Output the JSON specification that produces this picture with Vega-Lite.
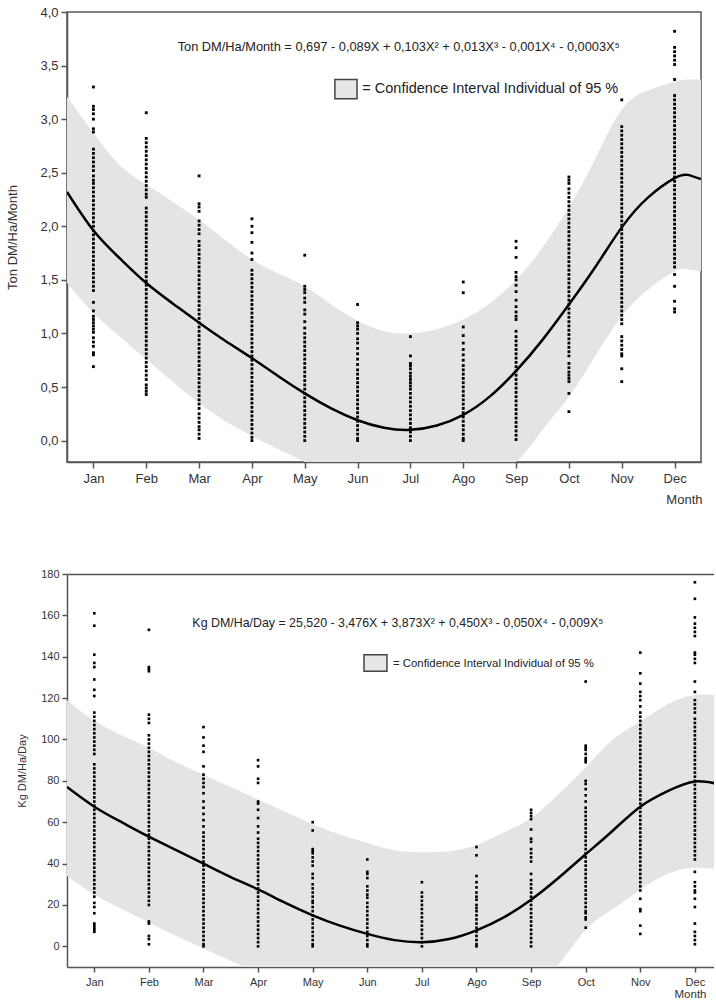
{
"$schema":"https://vega.github.io/schema/vega-lite/v6.json",
"padding":{"left":6,"top":5,"right":0,"bottom":0},
"background":"white",
"bounds":"flush",
"spacing":112,
"config":{"font":"Liberation Sans","view":{"stroke":null},"axis":{"grid":false,"domainColor":"#555","domainWidth":1.5,"tickColor":"#555","tickWidth":1.5,"labelColor":"#333","titleColor":"#333","titleFontWeight":"normal"}},
"datasets":{
"tl":[{"x":0.5,"y":2.32},{"x":1,"y":1.96},{"x":1.5,"y":1.7},{"x":2,"y":1.47},{"x":2.5,"y":1.28},{"x":3,"y":1.1},{"x":3.5,"y":0.93},{"x":4,"y":0.77},{"x":4.5,"y":0.6},{"x":5,"y":0.44},{"x":5.5,"y":0.3},{"x":6,"y":0.19},{"x":6.5,"y":0.12},{"x":7,"y":0.1},{"x":7.5,"y":0.14},{"x":8,"y":0.24},{"x":8.5,"y":0.41},{"x":9,"y":0.65},{"x":9.5,"y":0.94},{"x":10,"y":1.27},{"x":10.5,"y":1.62},{"x":11,"y":1.99},{"x":11.5,"y":2.27},{"x":12,"y":2.45},{"x":12.25,"y":2.48},{"x":12.5,"y":2.44}],
"tb":[{"x":0.5,"y":1.47,"y2":3.21},{"x":1,"y":1.19,"y2":2.87},{"x":1.5,"y":0.97,"y2":2.57},{"x":2,"y":0.76,"y2":2.39},{"x":2.5,"y":0.55,"y2":2.23},{"x":3,"y":0.35,"y2":2.06},{"x":3.5,"y":0.18,"y2":1.87},{"x":4,"y":0.04,"y2":1.69},{"x":4.5,"y":-0.08,"y2":1.56},{"x":5,"y":-0.2,"y2":1.44},{"x":5.5,"y":-0.33,"y2":1.27},{"x":6,"y":-0.45,"y2":1.12},{"x":6.5,"y":-0.52,"y2":1.02},{"x":7,"y":-0.55,"y2":1.0},{"x":7.5,"y":-0.52,"y2":1.04},{"x":8,"y":-0.4,"y2":1.13},{"x":8.5,"y":-0.3,"y2":1.28},{"x":9,"y":-0.2,"y2":1.5},{"x":9.5,"y":0.1,"y2":1.8},{"x":10,"y":0.41,"y2":2.18},{"x":10.5,"y":0.79,"y2":2.63},{"x":11,"y":1.16,"y2":3.09},{"x":11.5,"y":1.41,"y2":3.27},{"x":12,"y":1.58,"y2":3.35},{"x":12.25,"y":1.6,"y2":3.37},{"x":12.5,"y":1.58,"y2":3.37}],
"tt":[{"x":6.78,"y":3.675,"t":"Ton DM/Ha/Month = 0,697 - 0,089X + 0,103X² + 0,013X³ - 0,001X⁴ - 0,0003X⁵"}],
"tg":[{"x":6.09,"y":3.28,"t":"= Confidence Interval Individual of 95 %"}],
"ts":[{"x":5.57,"x2":5.99,"y":3.19,"y2":3.37}],
"tp":[
{"x":1,"y":3.3},{"x":1,"y":3.12},{"x":1,"y":3.09},{"x":1,"y":3.05},{"x":1,"y":3.0},{"x":1,"y":2.91},{"x":1,"y":2.88},
{"x":1,"y":2.72},{"x":1,"y":2.68},{"x":1,"y":2.64},{"x":1,"y":2.6},{"x":1,"y":2.56},{"x":1,"y":2.52},{"x":1,"y":2.47},{"x":1,"y":2.43},{"x":1,"y":2.4},{"x":1,"y":2.36},{"x":1,"y":2.32},{"x":1,"y":2.28},{"x":1,"y":2.24},{"x":1,"y":2.2},{"x":1,"y":2.16},{"x":1,"y":2.12},{"x":1,"y":2.08},{"x":1,"y":2.04},{"x":1,"y":2.0},{"x":1,"y":1.96},{"x":1,"y":1.92},{"x":1,"y":1.88},{"x":1,"y":1.84},{"x":1,"y":1.8},{"x":1,"y":1.76},{"x":1,"y":1.72},{"x":1,"y":1.68},{"x":1,"y":1.64},{"x":1,"y":1.6},{"x":1,"y":1.56},{"x":1,"y":1.52},{"x":1,"y":1.48},{"x":1,"y":1.44},{"x":1,"y":1.4},
{"x":1,"y":1.29},{"x":1,"y":1.21},{"x":1,"y":1.16},{"x":1,"y":1.13},{"x":1,"y":1.1},{"x":1,"y":1.07},{"x":1,"y":1.04},{"x":1,"y":1.01},{"x":1,"y":0.96},{"x":1,"y":0.92},{"x":1,"y":0.88},{"x":1,"y":0.82},{"x":1,"y":0.8},{"x":1,"y":0.69},
{"x":2,"y":3.06},{"x":2,"y":2.82},{"x":2,"y":2.78},{"x":2,"y":2.74},{"x":2,"y":2.7},{"x":2,"y":2.66},{"x":2,"y":2.62},{"x":2,"y":2.58},{"x":2,"y":2.54},{"x":2,"y":2.5},{"x":2,"y":2.46},{"x":2,"y":2.42},{"x":2,"y":2.38},{"x":2,"y":2.34},{"x":2,"y":2.3},{"x":2,"y":2.27},
{"x":2,"y":2.17},{"x":2,"y":2.13},{"x":2,"y":2.09},{"x":2,"y":2.05},{"x":2,"y":2.01},{"x":2,"y":1.97},{"x":2,"y":1.93},{"x":2,"y":1.89},{"x":2,"y":1.85},{"x":2,"y":1.81},{"x":2,"y":1.77},{"x":2,"y":1.73},{"x":2,"y":1.69},{"x":2,"y":1.65},{"x":2,"y":1.61},{"x":2,"y":1.57},{"x":2,"y":1.53},{"x":2,"y":1.49},{"x":2,"y":1.45},{"x":2,"y":1.41},{"x":2,"y":1.37},{"x":2,"y":1.33},{"x":2,"y":1.29},{"x":2,"y":1.25},{"x":2,"y":1.21},{"x":2,"y":1.17},{"x":2,"y":1.13},{"x":2,"y":1.09},{"x":2,"y":1.05},{"x":2,"y":1.01},{"x":2,"y":0.97},{"x":2,"y":0.93},{"x":2,"y":0.89},{"x":2,"y":0.85},{"x":2,"y":0.81},{"x":2,"y":0.77},{"x":2,"y":0.73},{"x":2,"y":0.69},{"x":2,"y":0.65},{"x":2,"y":0.61},
{"x":2,"y":0.57},{"x":2,"y":0.52},{"x":2,"y":0.49},{"x":2,"y":0.46},{"x":2,"y":0.43},
{"x":3,"y":2.47},{"x":3,"y":2.21},{"x":3,"y":2.18},{"x":3,"y":2.14},{"x":3,"y":2.05},{"x":3,"y":2.01},{"x":3,"y":1.97},{"x":3,"y":1.93},
{"x":3,"y":1.86},{"x":3,"y":1.82},{"x":3,"y":1.78},{"x":3,"y":1.74},{"x":3,"y":1.7},{"x":3,"y":1.66},{"x":3,"y":1.62},{"x":3,"y":1.58},{"x":3,"y":1.54},{"x":3,"y":1.5},{"x":3,"y":1.46},{"x":3,"y":1.42},{"x":3,"y":1.38},{"x":3,"y":1.34},{"x":3,"y":1.3},{"x":3,"y":1.26},{"x":3,"y":1.22},{"x":3,"y":1.18},{"x":3,"y":1.14},{"x":3,"y":1.1},{"x":3,"y":1.06},{"x":3,"y":1.02},{"x":3,"y":0.98},{"x":3,"y":0.94},{"x":3,"y":0.9},{"x":3,"y":0.86},{"x":3,"y":0.82},{"x":3,"y":0.78},{"x":3,"y":0.74},{"x":3,"y":0.7},{"x":3,"y":0.66},{"x":3,"y":0.62},{"x":3,"y":0.58},{"x":3,"y":0.54},{"x":3,"y":0.5},{"x":3,"y":0.46},{"x":3,"y":0.42},{"x":3,"y":0.38},{"x":3,"y":0.34},{"x":3,"y":0.3},{"x":3,"y":0.25},{"x":3,"y":0.21},{"x":3,"y":0.17},{"x":3,"y":0.13},{"x":3,"y":0.1},{"x":3,"y":0.06},{"x":3,"y":0.02},
{"x":4,"y":2.07},{"x":4,"y":2.0},{"x":4,"y":1.94},{"x":4,"y":1.85},{"x":4,"y":1.75},{"x":4,"y":1.69},{"x":4,"y":1.59},{"x":4,"y":1.55},{"x":4,"y":1.51},
{"x":4,"y":1.47},{"x":4,"y":1.43},{"x":4,"y":1.39},{"x":4,"y":1.35},{"x":4,"y":1.31},{"x":4,"y":1.27},{"x":4,"y":1.23},{"x":4,"y":1.19},{"x":4,"y":1.15},{"x":4,"y":1.11},{"x":4,"y":1.07},{"x":4,"y":1.03},{"x":4,"y":0.99},{"x":4,"y":0.95},{"x":4,"y":0.91},{"x":4,"y":0.87},{"x":4,"y":0.83},{"x":4,"y":0.79},{"x":4,"y":0.75},{"x":4,"y":0.71},{"x":4,"y":0.67},{"x":4,"y":0.63},{"x":4,"y":0.59},{"x":4,"y":0.55},{"x":4,"y":0.51},{"x":4,"y":0.47},{"x":4,"y":0.43},{"x":4,"y":0.39},{"x":4,"y":0.35},{"x":4,"y":0.31},{"x":4,"y":0.27},{"x":4,"y":0.23},{"x":4,"y":0.19},{"x":4,"y":0.15},{"x":4,"y":0.11},{"x":4,"y":0.07},{"x":4,"y":0.03},{"x":4,"y":0.0},
{"x":5,"y":1.73},{"x":5,"y":1.44},{"x":5,"y":1.41},{"x":5,"y":1.38},{"x":5,"y":1.33},{"x":5,"y":1.29},{"x":5,"y":1.22},{"x":5,"y":1.18},{"x":5,"y":1.11},{"x":5,"y":1.05},{"x":5,"y":1.0},{"x":5,"y":0.96},{"x":5,"y":0.92},{"x":5,"y":0.88},{"x":5,"y":0.84},{"x":5,"y":0.8},{"x":5,"y":0.76},{"x":5,"y":0.72},{"x":5,"y":0.68},{"x":5,"y":0.64},
{"x":5,"y":0.6},{"x":5,"y":0.56},{"x":5,"y":0.52},{"x":5,"y":0.48},{"x":5,"y":0.44},{"x":5,"y":0.4},{"x":5,"y":0.36},{"x":5,"y":0.32},{"x":5,"y":0.28},{"x":5,"y":0.24},{"x":5,"y":0.2},{"x":5,"y":0.16},{"x":5,"y":0.12},{"x":5,"y":0.08},{"x":5,"y":0.04},{"x":5,"y":0.0},
{"x":6,"y":1.27},{"x":6,"y":1.1},{"x":6,"y":1.07},{"x":6,"y":1.04},{"x":6,"y":1.0},{"x":6,"y":0.95},{"x":6,"y":0.91},{"x":6,"y":0.86},{"x":6,"y":0.81},{"x":6,"y":0.76},{"x":6,"y":0.71},{"x":6,"y":0.66},
{"x":6,"y":0.62},{"x":6,"y":0.58},{"x":6,"y":0.54},{"x":6,"y":0.5},{"x":6,"y":0.46},{"x":6,"y":0.42},{"x":6,"y":0.38},{"x":6,"y":0.34},{"x":6,"y":0.3},{"x":6,"y":0.26},{"x":6,"y":0.22},{"x":6,"y":0.18},{"x":6,"y":0.14},{"x":6,"y":0.1},{"x":6,"y":0.06},{"x":6,"y":0.02},{"x":6,"y":0.0},
{"x":7,"y":0.97},{"x":7,"y":0.79},{"x":7,"y":0.72},{"x":7,"y":0.7},{"x":7,"y":0.67},{"x":7,"y":0.63},{"x":7,"y":0.6},{"x":7,"y":0.57},{"x":7,"y":0.54},{"x":7,"y":0.51},
{"x":7,"y":0.48},{"x":7,"y":0.44},{"x":7,"y":0.4},{"x":7,"y":0.36},{"x":7,"y":0.32},{"x":7,"y":0.28},{"x":7,"y":0.24},{"x":7,"y":0.2},{"x":7,"y":0.16},{"x":7,"y":0.12},{"x":7,"y":0.08},{"x":7,"y":0.04},{"x":7,"y":0.0},
{"x":8,"y":1.48},{"x":8,"y":1.38},{"x":8,"y":1.06},{"x":8,"y":0.98},{"x":8,"y":0.91},{"x":8,"y":0.85},{"x":8,"y":0.8},{"x":8,"y":0.75},{"x":8,"y":0.7},{"x":8,"y":0.66},{"x":8,"y":0.62},{"x":8,"y":0.58},
{"x":8,"y":0.54},{"x":8,"y":0.5},{"x":8,"y":0.46},{"x":8,"y":0.42},{"x":8,"y":0.38},{"x":8,"y":0.34},{"x":8,"y":0.3},{"x":8,"y":0.26},{"x":8,"y":0.22},{"x":8,"y":0.18},{"x":8,"y":0.14},{"x":8,"y":0.1},{"x":8,"y":0.06},{"x":8,"y":0.02},{"x":8,"y":0.0},
{"x":9,"y":1.86},{"x":9,"y":1.8},{"x":9,"y":1.71},{"x":9,"y":1.57},{"x":9,"y":1.53},{"x":9,"y":1.5},{"x":9,"y":1.45},{"x":9,"y":1.39},{"x":9,"y":1.31},{"x":9,"y":1.25},{"x":9,"y":1.2},{"x":9,"y":1.16},{"x":9,"y":1.13},{"x":9,"y":1.02},
{"x":9,"y":0.97},{"x":9,"y":0.93},{"x":9,"y":0.89},{"x":9,"y":0.85},{"x":9,"y":0.81},{"x":9,"y":0.77},{"x":9,"y":0.73},{"x":9,"y":0.69},{"x":9,"y":0.65},{"x":9,"y":0.61},{"x":9,"y":0.57},{"x":9,"y":0.53},{"x":9,"y":0.49},{"x":9,"y":0.45},{"x":9,"y":0.41},{"x":9,"y":0.37},{"x":9,"y":0.33},{"x":9,"y":0.29},{"x":9,"y":0.25},{"x":9,"y":0.21},{"x":9,"y":0.17},{"x":9,"y":0.13},{"x":9,"y":0.09},{"x":9,"y":0.05},{"x":9,"y":0.01},
{"x":10,"y":2.46},{"x":10,"y":2.43},{"x":10,"y":2.4},
{"x":10,"y":2.35},{"x":10,"y":2.31},{"x":10,"y":2.27},{"x":10,"y":2.23},{"x":10,"y":2.19},{"x":10,"y":2.15},{"x":10,"y":2.11},{"x":10,"y":2.07},{"x":10,"y":2.03},{"x":10,"y":1.99},{"x":10,"y":1.95},{"x":10,"y":1.91},{"x":10,"y":1.87},{"x":10,"y":1.83},{"x":10,"y":1.79},{"x":10,"y":1.75},{"x":10,"y":1.71},{"x":10,"y":1.67},{"x":10,"y":1.63},{"x":10,"y":1.59},{"x":10,"y":1.55},{"x":10,"y":1.51},{"x":10,"y":1.47},{"x":10,"y":1.43},{"x":10,"y":1.39},{"x":10,"y":1.35},{"x":10,"y":1.31},{"x":10,"y":1.27},{"x":10,"y":1.23},{"x":10,"y":1.19},{"x":10,"y":1.15},{"x":10,"y":1.11},{"x":10,"y":1.07},{"x":10,"y":1.03},{"x":10,"y":0.99},{"x":10,"y":0.95},{"x":10,"y":0.91},{"x":10,"y":0.87},{"x":10,"y":0.83},{"x":10,"y":0.79},
{"x":10,"y":0.72},{"x":10,"y":0.68},{"x":10,"y":0.64},{"x":10,"y":0.61},{"x":10,"y":0.58},{"x":10,"y":0.55},{"x":10,"y":0.44},{"x":10,"y":0.27},
{"x":11,"y":3.18},
{"x":11,"y":2.93},{"x":11,"y":2.89},{"x":11,"y":2.85},{"x":11,"y":2.81},{"x":11,"y":2.77},{"x":11,"y":2.73},{"x":11,"y":2.69},{"x":11,"y":2.65},{"x":11,"y":2.61},{"x":11,"y":2.57},{"x":11,"y":2.53},{"x":11,"y":2.49},{"x":11,"y":2.45},{"x":11,"y":2.41},{"x":11,"y":2.37},{"x":11,"y":2.33},{"x":11,"y":2.29},{"x":11,"y":2.25},{"x":11,"y":2.21},{"x":11,"y":2.17},{"x":11,"y":2.13},{"x":11,"y":2.09},{"x":11,"y":2.05},{"x":11,"y":2.01},{"x":11,"y":1.97},{"x":11,"y":1.93},{"x":11,"y":1.89},{"x":11,"y":1.85},{"x":11,"y":1.81},{"x":11,"y":1.77},{"x":11,"y":1.73},{"x":11,"y":1.69},{"x":11,"y":1.65},{"x":11,"y":1.61},{"x":11,"y":1.57},{"x":11,"y":1.53},{"x":11,"y":1.49},{"x":11,"y":1.45},{"x":11,"y":1.41},{"x":11,"y":1.37},{"x":11,"y":1.33},{"x":11,"y":1.29},{"x":11,"y":1.25},{"x":11,"y":1.21},{"x":11,"y":1.17},{"x":11,"y":1.13},{"x":11,"y":1.09},
{"x":11,"y":0.97},{"x":11,"y":0.93},{"x":11,"y":0.89},{"x":11,"y":0.85},{"x":11,"y":0.81},{"x":11,"y":0.79},{"x":11,"y":0.67},{"x":11,"y":0.55},
{"x":12,"y":3.82},{"x":12,"y":3.67},{"x":12,"y":3.63},{"x":12,"y":3.59},{"x":12,"y":3.55},{"x":12,"y":3.51},{"x":12,"y":3.37},
{"x":12,"y":3.22},{"x":12,"y":3.18},{"x":12,"y":3.14},{"x":12,"y":3.1},{"x":12,"y":3.06},{"x":12,"y":3.02},{"x":12,"y":2.98},{"x":12,"y":2.94},{"x":12,"y":2.9},{"x":12,"y":2.86},{"x":12,"y":2.82},{"x":12,"y":2.78},{"x":12,"y":2.74},{"x":12,"y":2.7},{"x":12,"y":2.66},{"x":12,"y":2.62},{"x":12,"y":2.58},{"x":12,"y":2.54},{"x":12,"y":2.5},{"x":12,"y":2.46},{"x":12,"y":2.42},{"x":12,"y":2.38},{"x":12,"y":2.34},{"x":12,"y":2.3},{"x":12,"y":2.26},{"x":12,"y":2.22},{"x":12,"y":2.18},{"x":12,"y":2.14},{"x":12,"y":2.1},{"x":12,"y":2.06},{"x":12,"y":2.02},{"x":12,"y":1.98},{"x":12,"y":1.94},{"x":12,"y":1.9},{"x":12,"y":1.86},{"x":12,"y":1.82},{"x":12,"y":1.78},{"x":12,"y":1.74},{"x":12,"y":1.7},{"x":12,"y":1.66},{"x":12,"y":1.62},
{"x":12,"y":1.55},{"x":12,"y":1.44},{"x":12,"y":1.3},{"x":12,"y":1.23},{"x":12,"y":1.2}
],
"bl":[{"x":0.5,"y":77},{"x":1,"y":67.5},{"x":1.5,"y":60},{"x":2,"y":53},{"x":2.5,"y":46.5},{"x":3,"y":40},{"x":3.5,"y":33.5},{"x":4,"y":27.5},{"x":4.5,"y":21},{"x":5,"y":15},{"x":5.5,"y":10},{"x":6,"y":6},{"x":6.5,"y":3},{"x":7,"y":2},{"x":7.5,"y":3.5},{"x":8,"y":7.7},{"x":8.5,"y":14},{"x":9,"y":22.5},{"x":9.5,"y":33},{"x":10,"y":44.5},{"x":10.5,"y":56},{"x":11,"y":67.5},{"x":11.5,"y":75},{"x":12,"y":79.7},{"x":12.5,"y":78}],
"bb":[{"x":0.5,"y":34,"y2":119},{"x":1,"y":25,"y2":109},{"x":1.5,"y":18,"y2":102},{"x":2,"y":11.5,"y2":96},{"x":2.5,"y":5,"y2":89},{"x":3,"y":-1,"y2":83},{"x":3.5,"y":-7,"y2":77},{"x":4,"y":-13,"y2":71},{"x":4.5,"y":-18,"y2":65},{"x":5,"y":-22,"y2":59},{"x":5.5,"y":-26,"y2":54},{"x":6,"y":-28,"y2":50},{"x":6.5,"y":-30,"y2":46.5},{"x":7,"y":-30,"y2":45.5},{"x":7.5,"y":-29,"y2":46},{"x":8,"y":-25,"y2":49},{"x":8.5,"y":-22,"y2":55},{"x":9,"y":-20,"y2":62},{"x":9.5,"y":-9,"y2":73.5},{"x":10,"y":8,"y2":86.5},{"x":10.5,"y":18,"y2":100},{"x":11,"y":27.5,"y2":108.7},{"x":11.5,"y":35,"y2":117},{"x":12,"y":38,"y2":121.5},{"x":12.5,"y":37,"y2":121}],
"bt":[{"x":6.56,"y":156.5,"t":"Kg DM/Ha/Day = 25,520 - 3,476X + 3,873X² + 0,450X³ - 0,050X⁴ - 0,009X⁵"}],
"bg":[{"x":6.47,"y":136.5,"t":"= Confidence Interval Individual of 95 %"}],
"bs":[{"x":5.94,"x2":6.36,"y":133,"y2":141}],
"bp":[
{"x":1,"y":161},{"x":1,"y":155},{"x":1,"y":141},{"x":1,"y":137},{"x":1,"y":135},{"x":1,"y":129},{"x":1,"y":124},{"x":1,"y":121},{"x":1,"y":113},{"x":1,"y":111},
{"x":1,"y":109},{"x":1,"y":107},{"x":1,"y":105},{"x":1,"y":103},{"x":1,"y":101},{"x":1,"y":99},{"x":1,"y":97},{"x":1,"y":95},{"x":1,"y":93},{"x":1,"y":88},{"x":1,"y":86},{"x":1,"y":84},{"x":1,"y":82},{"x":1,"y":80},{"x":1,"y":78},{"x":1,"y":76},{"x":1,"y":74},{"x":1,"y":72},{"x":1,"y":70},{"x":1,"y":68},{"x":1,"y":66},{"x":1,"y":64},{"x":1,"y":62},{"x":1,"y":60},{"x":1,"y":58},{"x":1,"y":56},{"x":1,"y":54},{"x":1,"y":52},{"x":1,"y":50},{"x":1,"y":48},{"x":1,"y":46},{"x":1,"y":44},{"x":1,"y":42},{"x":1,"y":40},{"x":1,"y":38},{"x":1,"y":36},{"x":1,"y":34},{"x":1,"y":32},{"x":1,"y":30},{"x":1,"y":28},
{"x":1,"y":26},{"x":1,"y":24},{"x":1,"y":21},{"x":1,"y":19},{"x":1,"y":16},{"x":1,"y":11},{"x":1,"y":10},{"x":1,"y":9},{"x":1,"y":8},{"x":1,"y":7},
{"x":2,"y":153},{"x":2,"y":135},{"x":2,"y":134},{"x":2,"y":133},{"x":2,"y":112},{"x":2,"y":110},{"x":2,"y":108},
{"x":2,"y":102},{"x":2,"y":100},{"x":2,"y":98},{"x":2,"y":96},{"x":2,"y":94},{"x":2,"y":92},{"x":2,"y":90},{"x":2,"y":88},{"x":2,"y":86},{"x":2,"y":84},{"x":2,"y":82},{"x":2,"y":80},{"x":2,"y":78},{"x":2,"y":76},{"x":2,"y":74},{"x":2,"y":72},{"x":2,"y":70},{"x":2,"y":68},{"x":2,"y":66},{"x":2,"y":64},{"x":2,"y":62},{"x":2,"y":60},{"x":2,"y":58},{"x":2,"y":56},{"x":2,"y":54},{"x":2,"y":52},{"x":2,"y":50},{"x":2,"y":48},{"x":2,"y":46},{"x":2,"y":44},{"x":2,"y":42},{"x":2,"y":40},{"x":2,"y":38},{"x":2,"y":36},{"x":2,"y":34},{"x":2,"y":32},{"x":2,"y":30},{"x":2,"y":28},{"x":2,"y":26},{"x":2,"y":24},{"x":2,"y":22},{"x":2,"y":20},
{"x":2,"y":12},{"x":2,"y":11},{"x":2,"y":5},{"x":2,"y":3.5},{"x":2,"y":1},
{"x":3,"y":106},{"x":3,"y":101},{"x":3,"y":97},{"x":3,"y":94},{"x":3,"y":87},{"x":3,"y":83},{"x":3,"y":81},{"x":3,"y":79},{"x":3,"y":77},{"x":3,"y":74},{"x":3,"y":70},{"x":3,"y":67},{"x":3,"y":64},{"x":3,"y":61},{"x":3,"y":58},{"x":3,"y":55},
{"x":3,"y":53},{"x":3,"y":51},{"x":3,"y":49},{"x":3,"y":47},{"x":3,"y":45},{"x":3,"y":43},{"x":3,"y":41},{"x":3,"y":39},{"x":3,"y":37},{"x":3,"y":35},{"x":3,"y":33},{"x":3,"y":31},{"x":3,"y":29},{"x":3,"y":27},{"x":3,"y":25},{"x":3,"y":23},{"x":3,"y":21},{"x":3,"y":19},{"x":3,"y":17},{"x":3,"y":15},{"x":3,"y":13},{"x":3,"y":11},{"x":3,"y":9},{"x":3,"y":7},{"x":3,"y":5},{"x":3,"y":3},{"x":3,"y":1},{"x":3,"y":0},
{"x":4,"y":90},{"x":4,"y":87},{"x":4,"y":81},{"x":4,"y":79},{"x":4,"y":70},{"x":4,"y":69},{"x":4,"y":66},{"x":4,"y":62},{"x":4,"y":58},{"x":4,"y":55},{"x":4,"y":52},{"x":4,"y":50},
{"x":4,"y":48},{"x":4,"y":46},{"x":4,"y":44},{"x":4,"y":42},{"x":4,"y":40},{"x":4,"y":38},{"x":4,"y":36},{"x":4,"y":34},{"x":4,"y":32},{"x":4,"y":30},{"x":4,"y":28},{"x":4,"y":26},{"x":4,"y":24},{"x":4,"y":22},{"x":4,"y":20},{"x":4,"y":18},{"x":4,"y":16},{"x":4,"y":14},{"x":4,"y":12},{"x":4,"y":10},{"x":4,"y":8},{"x":4,"y":6},{"x":4,"y":4},{"x":4,"y":2},{"x":4,"y":0},
{"x":5,"y":60},{"x":5,"y":56},{"x":5,"y":47},{"x":5,"y":46},{"x":5,"y":45},{"x":5,"y":43},{"x":5,"y":41},{"x":5,"y":39},{"x":5,"y":35},{"x":5,"y":33},{"x":5,"y":30},{"x":5,"y":28},{"x":5,"y":26},{"x":5,"y":24},{"x":5,"y":22},
{"x":5,"y":21},{"x":5,"y":19},{"x":5,"y":17},{"x":5,"y":15},{"x":5,"y":13},{"x":5,"y":11},{"x":5,"y":9},{"x":5,"y":7},{"x":5,"y":5},{"x":5,"y":3},{"x":5,"y":1},{"x":5,"y":0},
{"x":6,"y":42},{"x":6,"y":36},{"x":6,"y":35},{"x":6,"y":33},{"x":6,"y":29},{"x":6,"y":27},{"x":6,"y":25},{"x":6,"y":23.5},
{"x":6,"y":21},{"x":6,"y":19},{"x":6,"y":17},{"x":6,"y":15},{"x":6,"y":13},{"x":6,"y":11},{"x":6,"y":9},{"x":6,"y":7},{"x":6,"y":5},{"x":6,"y":3},{"x":6,"y":1},{"x":6,"y":0},
{"x":7,"y":31},{"x":7,"y":26},{"x":7,"y":24},{"x":7,"y":22},{"x":7,"y":20},
{"x":7,"y":18},{"x":7,"y":16},{"x":7,"y":14},{"x":7,"y":12},{"x":7,"y":10},{"x":7,"y":8},{"x":7,"y":6},{"x":7,"y":4},{"x":7,"y":2},{"x":7,"y":0},
{"x":8,"y":48},{"x":8,"y":44},{"x":8,"y":34},{"x":8,"y":31},{"x":8,"y":28.5},{"x":8,"y":26},{"x":8,"y":24},{"x":8,"y":22.5},{"x":8,"y":20},{"x":8,"y":18.5},
{"x":8,"y":17},{"x":8,"y":15},{"x":8,"y":13},{"x":8,"y":11},{"x":8,"y":9},{"x":8,"y":7},{"x":8,"y":5},{"x":8,"y":3},{"x":8,"y":1},{"x":8,"y":0},
{"x":9,"y":66},{"x":9,"y":64.5},{"x":9,"y":63},{"x":9,"y":61.5},{"x":9,"y":56.5},{"x":9,"y":52},{"x":9,"y":50.5},{"x":9,"y":47},{"x":9,"y":45},{"x":9,"y":43},{"x":9,"y":41},{"x":9,"y":35},
{"x":9,"y":32},{"x":9,"y":30},{"x":9,"y":28},{"x":9,"y":26},{"x":9,"y":24},{"x":9,"y":22},{"x":9,"y":20},{"x":9,"y":18},{"x":9,"y":16},{"x":9,"y":14},{"x":9,"y":12},{"x":9,"y":10},{"x":9,"y":8},{"x":9,"y":6},{"x":9,"y":4},{"x":9,"y":2},{"x":9,"y":0},
{"x":10,"y":128},{"x":10,"y":97},{"x":10,"y":96},{"x":10,"y":95},{"x":10,"y":93},{"x":10,"y":91},{"x":10,"y":90},{"x":10,"y":89},{"x":10,"y":80},{"x":10,"y":78.5},{"x":10,"y":76},{"x":10,"y":73},{"x":10,"y":70},{"x":10,"y":67},{"x":10,"y":65},
{"x":10,"y":63},{"x":10,"y":61},{"x":10,"y":59},{"x":10,"y":57},{"x":10,"y":55},{"x":10,"y":53},{"x":10,"y":51},{"x":10,"y":49},{"x":10,"y":47},{"x":10,"y":45},{"x":10,"y":43},{"x":10,"y":41},{"x":10,"y":39},{"x":10,"y":37},{"x":10,"y":35},{"x":10,"y":33},{"x":10,"y":31},{"x":10,"y":29},{"x":10,"y":27},{"x":10,"y":25},{"x":10,"y":23},{"x":10,"y":21},{"x":10,"y":19},
{"x":10,"y":17},{"x":10,"y":16},{"x":10,"y":14},{"x":10,"y":13},{"x":10,"y":9},
{"x":11,"y":142},{"x":11,"y":132},{"x":11,"y":127},{"x":11,"y":123},{"x":11,"y":121},{"x":11,"y":119},{"x":11,"y":116},
{"x":11,"y":113},{"x":11,"y":111},{"x":11,"y":109},{"x":11,"y":107},{"x":11,"y":105},{"x":11,"y":103},{"x":11,"y":101},{"x":11,"y":99},{"x":11,"y":97},{"x":11,"y":95},{"x":11,"y":93},{"x":11,"y":91},{"x":11,"y":89},{"x":11,"y":87},{"x":11,"y":85},{"x":11,"y":83},{"x":11,"y":81},{"x":11,"y":79},{"x":11,"y":77},{"x":11,"y":75},{"x":11,"y":73},{"x":11,"y":71},{"x":11,"y":69},{"x":11,"y":67},{"x":11,"y":65},{"x":11,"y":63},{"x":11,"y":61},{"x":11,"y":59},{"x":11,"y":57},{"x":11,"y":55},{"x":11,"y":53},{"x":11,"y":51},{"x":11,"y":49},{"x":11,"y":47},{"x":11,"y":45},{"x":11,"y":43},{"x":11,"y":41},{"x":11,"y":39},{"x":11,"y":37},{"x":11,"y":35},{"x":11,"y":33},{"x":11,"y":31},{"x":11,"y":29},{"x":11,"y":27},
{"x":11,"y":23},{"x":11,"y":18},{"x":11,"y":17},{"x":11,"y":10},{"x":11,"y":6},
{"x":12,"y":176},{"x":12,"y":168},{"x":12,"y":159},{"x":12,"y":156},{"x":12,"y":154},{"x":12,"y":152},{"x":12,"y":150},{"x":12,"y":142},{"x":12,"y":141},{"x":12,"y":139},{"x":12,"y":137},{"x":12,"y":128},{"x":12,"y":123},{"x":12,"y":119},{"x":12,"y":117},{"x":12,"y":115},{"x":12,"y":113},
{"x":12,"y":110},{"x":12,"y":108},{"x":12,"y":106},{"x":12,"y":104},{"x":12,"y":102},{"x":12,"y":100},{"x":12,"y":98},{"x":12,"y":96},{"x":12,"y":94},{"x":12,"y":92},{"x":12,"y":90},{"x":12,"y":88},{"x":12,"y":86},{"x":12,"y":84},{"x":12,"y":82},{"x":12,"y":80},{"x":12,"y":78},{"x":12,"y":76},{"x":12,"y":74},{"x":12,"y":72},{"x":12,"y":70},{"x":12,"y":68},{"x":12,"y":66},{"x":12,"y":64},{"x":12,"y":62},{"x":12,"y":60},{"x":12,"y":58},{"x":12,"y":56},{"x":12,"y":54},{"x":12,"y":52},{"x":12,"y":50},{"x":12,"y":48},{"x":12,"y":46},{"x":12,"y":44},{"x":12,"y":42},
{"x":12,"y":36},{"x":12,"y":31},{"x":12,"y":29},{"x":12,"y":27},{"x":12,"y":26},{"x":12,"y":23},{"x":12,"y":19},{"x":12,"y":11},{"x":12,"y":7},{"x":12,"y":5},{"x":12,"y":3},{"x":12,"y":1}
]
},
"vconcat":[
{
"width":634,"height":450,
"view":{"stroke":"#555","strokeWidth":1.5},
"encoding":{
"x":{"field":"x","type":"quantitative","title":"Month","scale":{"domain":[0.5,12.5],"nice":false,"zero":false},"axis":{"values":[1,2,3,4,5,6,7,8,9,10,11,12],"labelExpr":"['Jan','Feb','Mar','Apr','May','Jun','Jul','Ago','Sep','Oct','Nov','Dec'][datum.value-1]","labelFontSize":13,"labelPadding":4,"tickSize":6,"titleFontSize":13,"titleAnchor":"end","titleAlign":"right","titleBaseline":"alphabetic","titleX":635,"titleY":41}},
"y":{"field":"y","type":"quantitative","title":"Ton DM/Ha/Month","scale":{"domain":[-0.2,4.0],"nice":false,"zero":false},"axis":{"values":[0,0.5,1,1.5,2,2.5,3,3.5,4],"labelExpr":"replace(format(datum.value,'.1f'),'.',',')","labelFontSize":13,"labelPadding":3,"tickSize":6,"titleFontSize":13,"titlePadding":20}}
},
"layer":[
{"data":{"name":"tb"},"mark":{"type":"area","color":"#e4e4e4","interpolate":"natural","clip":true},"encoding":{"y2":{"field":"y2"}}},
{"data":{"name":"tl"},"mark":{"type":"line","color":"#000","strokeWidth":2.5,"interpolate":"natural","clip":true},"encoding":{}},
{"data":{"name":"tp"},"mark":{"type":"square","size":8,"color":"#000","opacity":1}},
{"data":{"name":"ts"},"mark":{"type":"rect","fill":"#e6e6e6","stroke":"#444","strokeWidth":1.5},"encoding":{"x2":{"field":"x2"},"y2":{"field":"y2"}}},
{"data":{"name":"tt"},"mark":{"type":"text","align":"center","baseline":"middle","fontSize":12.8,"color":"#222"},"encoding":{"text":{"field":"t"}}},
{"data":{"name":"tg"},"mark":{"type":"text","align":"left","baseline":"middle","fontSize":14.5,"color":"#222"},"encoding":{"text":{"field":"t"}}}
]
},
{
"width":647,"height":393,
"encoding":{
"x":{"field":"x","type":"quantitative","scale":{"domain":[0.5,12.35],"nice":false,"zero":false},"axis":null},
"y":{"field":"y","type":"quantitative","title":"Kg DM/Ha/Day","scale":{"domain":[-10,180],"nice":false,"zero":false},"axis":{"values":[0,20,40,60,80,100,120,140,160,180],"labelFontSize":11,"labelPadding":3,"tickSize":5,"titleFontSize":11,"titlePadding":13}}
},
"layer":[
{"data":{"name":"bb"},"mark":{"type":"area","color":"#e4e4e4","interpolate":"natural","clip":true},"encoding":{"y2":{"field":"y2"},"x":{"field":"x","type":"quantitative","scale":{"domain":[0.5,12.35],"nice":false,"zero":false},"axis":{"orient":"top","labels":false,"ticks":false,"title":null,"domainColor":"#555","domainWidth":1.5}}}},
{"data":{"name":"bl"},"mark":{"type":"line","color":"#000","strokeWidth":2.5,"interpolate":"natural","clip":true},"encoding":{"x":{"field":"x","type":"quantitative","title":"Month","scale":{"domain":[0.5,12.35],"nice":false,"zero":false},"axis":{"orient":"bottom","values":[1,2,3,4,5,6,7,8,9,10,11,12],"labelExpr":"['Jan','Feb','Mar','Apr','May','Jun','Jul','Ago','Sep','Oct','Nov','Dec'][datum.value-1]","labelFontSize":11,"labelPadding":4,"tickSize":5,"titleFontSize":11.5,"titleAnchor":"end","titleAlign":"right","titleBaseline":"alphabetic","titleX":639,"titleY":30}}}},
{"data":{"name":"bp"},"mark":{"type":"square","size":7,"color":"#000","opacity":1}},
{"data":{"name":"bs"},"mark":{"type":"rect","fill":"#e6e6e6","stroke":"#444","strokeWidth":1.5},"encoding":{"x2":{"field":"x2"},"y2":{"field":"y2"}}},
{"data":{"name":"bt"},"mark":{"type":"text","align":"center","baseline":"middle","fontSize":12.4,"color":"#222"},"encoding":{"text":{"field":"t"}}},
{"data":{"name":"bg"},"mark":{"type":"text","align":"left","baseline":"middle","fontSize":11.4,"color":"#222"},"encoding":{"text":{"field":"t"}}}
]
}
]
}
